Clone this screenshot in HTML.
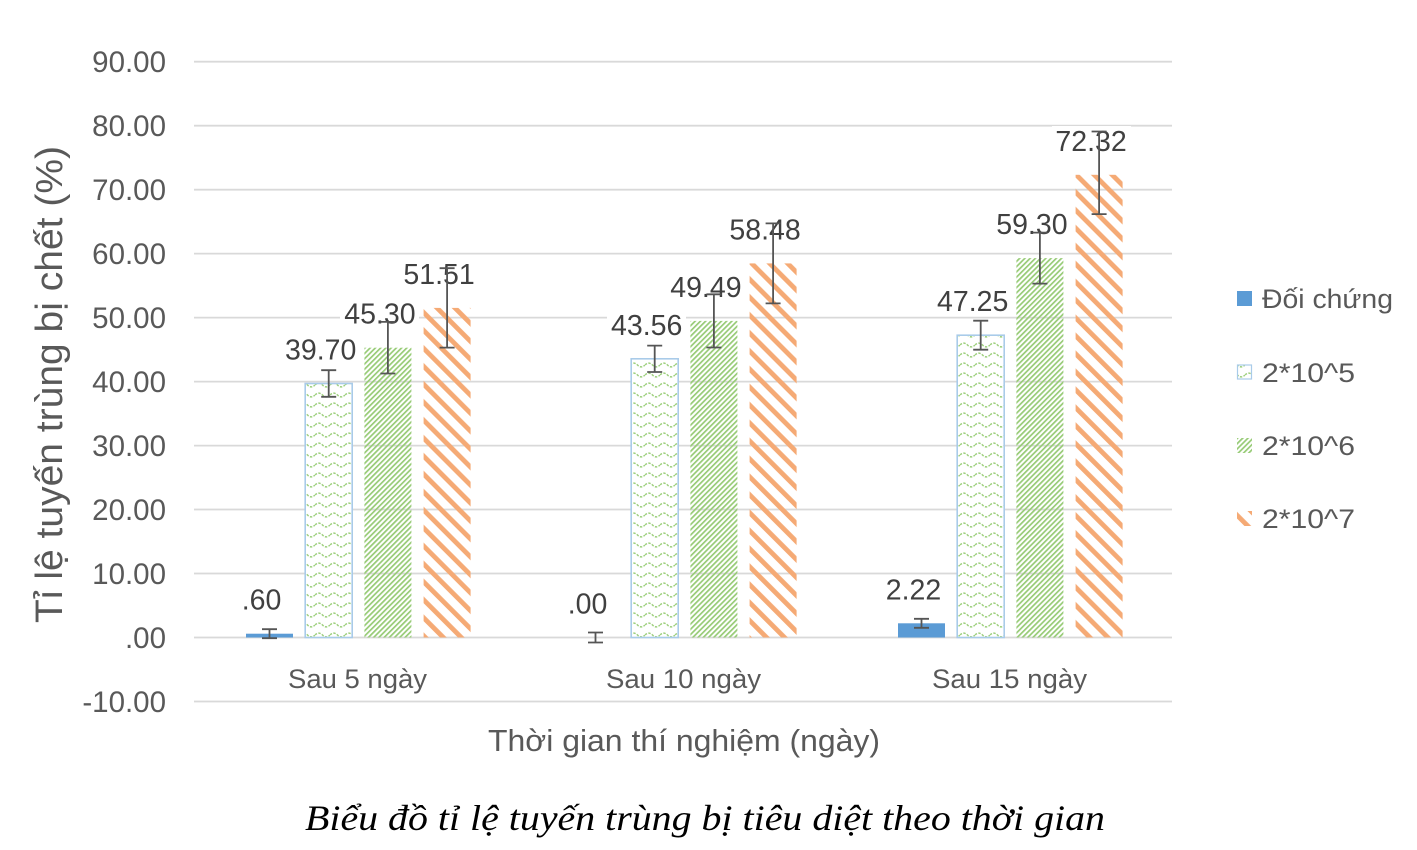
<!DOCTYPE html>
<html>
<head>
<meta charset="utf-8">
<style>
  html, body { margin:0; padding:0; background:#fff; }
  svg { display:block; }
</style>
</head>
<body>
<svg width="1417" height="850" viewBox="0 0 1417 850" xmlns="http://www.w3.org/2000/svg">
  <defs>
    <pattern id="pOrange" patternUnits="userSpaceOnUse" width="12.7" height="20" patternTransform="rotate(-45)">
      <rect x="0" y="0" width="4.8" height="20" fill="#f5aa75"/>
    </pattern>
    <pattern id="pGreen" patternUnits="userSpaceOnUse" width="3.7" height="10" patternTransform="rotate(45)">
      <rect x="0" y="0" width="1.7" height="10" fill="#97cb76"/>
    </pattern>
    <pattern id="pWave" patternUnits="userSpaceOnUse" width="15" height="10">
      <path d="M0,5 Q3.75,1.3 7.5,5 T15,5" fill="none" stroke="#9fd07f" stroke-width="1.5" stroke-dasharray="2.4,1.4"/>
    </pattern>
  </defs>

  <rect x="0" y="0" width="1417" height="850" fill="#ffffff"/>

  <!-- gridlines -->
  <g stroke="#d9d9d9" stroke-width="1.8">
    <line x1="194" y1="61.7" x2="1172" y2="61.7"/>
    <line x1="194" y1="125.7" x2="1172" y2="125.7"/>
    <line x1="194" y1="189.7" x2="1172" y2="189.7"/>
    <line x1="194" y1="253.6" x2="1172" y2="253.6"/>
    <line x1="194" y1="317.6" x2="1172" y2="317.6"/>
    <line x1="194" y1="381.6" x2="1172" y2="381.6"/>
    <line x1="194" y1="445.6" x2="1172" y2="445.6"/>
    <line x1="194" y1="509.5" x2="1172" y2="509.5"/>
    <line x1="194" y1="573.5" x2="1172" y2="573.5"/>
    <line x1="194" y1="637.5" x2="1172" y2="637.5"/>
    <line x1="194" y1="701.5" x2="1172" y2="701.5"/>
  </g>

  <!-- y tick labels -->
  <g font-family="Liberation Sans, Arial, sans-serif" font-size="29.5" fill="#595959" text-anchor="end">
    <text x="166" y="72">90.00</text>
    <text x="166" y="136">80.00</text>
    <text x="166" y="200">70.00</text>
    <text x="166" y="264">60.00</text>
    <text x="166" y="328">50.00</text>
    <text x="166" y="392">40.00</text>
    <text x="166" y="456">30.00</text>
    <text x="166" y="520">20.00</text>
    <text x="166" y="584">10.00</text>
    <text x="166" y="648">.00</text>
    <text x="166" y="712">-10.00</text>
  </g>

  <!-- bars group 1 -->
  <rect x="246" y="633.7" width="47" height="3.8" fill="#5b9bd5"/>
  <rect x="305.2" y="383.5" width="47" height="254" fill="#ffffff"/>
  <rect x="305.2" y="383.5" width="47" height="254" fill="url(#pWave)" stroke="#a9cbe9" stroke-width="1.6"/>
  <rect x="364.4" y="347.7" width="47" height="289.8" fill="url(#pGreen)"/>
  <rect x="423.6" y="307.9" width="47" height="329.6" fill="url(#pOrange)"/>

  <!-- bars group 2 -->
  <rect x="631.2" y="358.8" width="47" height="278.7" fill="#ffffff"/>
  <rect x="631.2" y="358.8" width="47" height="278.7" fill="url(#pWave)" stroke="#a9cbe9" stroke-width="1.6"/>
  <rect x="690.4" y="320.9" width="47" height="316.6" fill="url(#pGreen)"/>
  <rect x="749.6" y="263.4" width="47" height="374.1" fill="url(#pOrange)"/>

  <!-- bars group 3 -->
  <rect x="898" y="623.3" width="47" height="14.2" fill="#5b9bd5"/>
  <rect x="957.2" y="335.2" width="47" height="302.3" fill="#ffffff"/>
  <rect x="957.2" y="335.2" width="47" height="302.3" fill="url(#pWave)" stroke="#a9cbe9" stroke-width="1.6"/>
  <rect x="1016.4" y="258.1" width="47" height="379.4" fill="url(#pGreen)"/>
  <rect x="1075.6" y="174.8" width="47" height="462.7" fill="url(#pOrange)"/>

  <!-- data labels with white boxes -->
  <g fill="#ffffff">
    <rect x="238" y="585" width="47" height="30"/>
    <rect x="281" y="335" width="79" height="30"/>
    <rect x="340" y="299" width="79" height="30"/>
    <rect x="400" y="259" width="79" height="30"/>
    <rect x="564" y="589" width="47" height="30"/>
    <rect x="607" y="310" width="79" height="30"/>
    <rect x="666" y="272" width="79" height="30"/>
    <rect x="726" y="214" width="79" height="30"/>
    <rect x="874" y="575" width="79" height="30"/>
    <rect x="933" y="286" width="79" height="30"/>
    <rect x="992" y="209" width="79" height="30"/>
    <rect x="1052" y="126" width="79" height="30"/>
  </g>
  <g font-family="Liberation Sans, Arial, sans-serif" font-size="28.5" fill="#404040" text-anchor="middle">
    <text x="261.5" y="609.7">.60</text>
    <text x="320.7" y="359.5">39.70</text>
    <text x="379.9" y="323.7">45.30</text>
    <text x="439.1" y="283.9">51.51</text>
    <text x="587.5" y="613.5">.00</text>
    <text x="646.7" y="334.8">43.56</text>
    <text x="705.9" y="296.9">49.49</text>
    <text x="765.1" y="239.4">58.48</text>
    <text x="913.5" y="599.3">2.22</text>
    <text x="972.7" y="311.2">47.25</text>
    <text x="1031.9" y="234.1">59.30</text>
    <text x="1091.1" y="150.8">72.32</text>
  </g>

  <!-- error bars -->
  <g stroke="#555555" stroke-width="1.8" fill="none">
    <path d="M269.5,629.2 V638.2 M262,629.2 H277 M262,638.2 H277"/>
    <path d="M328.7,370.2 V396.8 M321.2,370.2 H336.2 M321.2,396.8 H336.2"/>
    <path d="M387.9,321.9 V373.5 M380.4,321.9 H395.4 M380.4,373.5 H395.4"/>
    <path d="M447.1,268.2 V347.6 M439.6,268.2 H454.6 M439.6,347.6 H454.6"/>

    <path d="M595.5,632.5 V642.5 M588,632.5 H603 M588,642.5 H603"/>
    <path d="M654.7,345.6 V372 M647.2,345.6 H662.2 M647.2,372 H662.2"/>
    <path d="M713.9,294.3 V347.5 M706.4,294.3 H721.4 M706.4,347.5 H721.4"/>
    <path d="M773.1,223.4 V303.4 M765.6,223.4 H780.6 M765.6,303.4 H780.6"/>

    <path d="M921.5,618.8 V627.8 M914,618.8 H929 M914,627.8 H929"/>
    <path d="M980.7,320.7 V349.7 M973.2,320.7 H988.2 M973.2,349.7 H988.2"/>
    <path d="M1039.9,232.6 V283.6 M1032.4,232.6 H1047.4 M1032.4,283.6 H1047.4"/>
    <path d="M1099.1,131.5 V214.1 M1091.6,131.5 H1106.6 M1091.6,214.1 H1106.6"/>
  </g>

  <!-- category labels -->
  <g font-family="Liberation Sans, Arial, sans-serif" font-size="27" fill="#595959" text-anchor="middle">
    <text x="357.5" y="688" textLength="139" lengthAdjust="spacingAndGlyphs">Sau 5 ngày</text>
    <text x="683.5" y="688" textLength="155" lengthAdjust="spacingAndGlyphs">Sau 10 ngày</text>
    <text x="1009.5" y="688" textLength="155" lengthAdjust="spacingAndGlyphs">Sau 15 ngày</text>
  </g>

  <!-- axis titles -->
  <text x="684" y="751" font-family="Liberation Sans, Arial, sans-serif" font-size="31" fill="#595959" text-anchor="middle" textLength="392" lengthAdjust="spacingAndGlyphs">Thời gian thí nghiệm (ngày)</text>
  <text transform="translate(62,384.5) rotate(-90)" font-family="Liberation Sans, Arial, sans-serif" font-size="38" fill="#595959" text-anchor="middle" textLength="477" lengthAdjust="spacingAndGlyphs">Tỉ lệ  tuyến trùng bị chết (%)</text>

  <!-- legend -->
  <rect x="1237" y="291" width="15" height="15" fill="#5b9bd5"/>
  <rect x="1237.5" y="365" width="14" height="14" fill="#ffffff"/>
  <rect x="1237.5" y="365" width="14" height="14" fill="url(#pWave)" stroke="#a9cbe9" stroke-width="1.2"/>
  <rect x="1237" y="438" width="15" height="15" fill="url(#pGreen)"/>
  <rect x="1237" y="511" width="15" height="15" fill="url(#pOrange)"/>
  <g font-family="Liberation Sans, Arial, sans-serif" font-size="27" fill="#595959">
    <text x="1262" y="308" textLength="131" lengthAdjust="spacingAndGlyphs">Đối chứng</text>
    <text x="1262" y="382" textLength="93" lengthAdjust="spacingAndGlyphs">2*10^5</text>
    <text x="1262" y="455" textLength="93" lengthAdjust="spacingAndGlyphs">2*10^6</text>
    <text x="1262" y="528" textLength="93" lengthAdjust="spacingAndGlyphs">2*10^7</text>
  </g>

  <!-- caption -->
  <text x="705" y="830" font-family="Liberation Serif, Times New Roman, serif" font-style="italic" font-size="36" fill="#000000" text-anchor="middle" textLength="800" lengthAdjust="spacingAndGlyphs">Biểu đồ tỉ lệ tuyến trùng bị tiêu diệt theo thời gian</text>
</svg>
</body>
</html>
